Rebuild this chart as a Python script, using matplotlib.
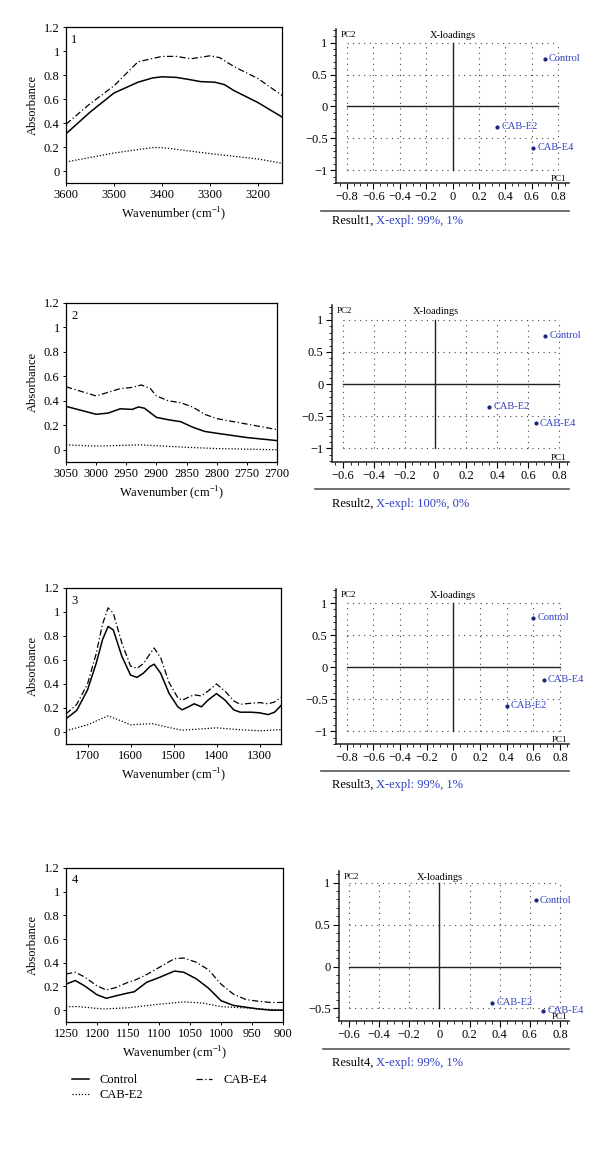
import matplotlib.pyplot as plt
from matplotlib.lines import Line2D
from matplotlib.ticker import MultipleLocator, FuncFormatter
import matplotlib.transforms as mtrans

plt.rcParams['font.family'] = ['Liberation Serif', 'DejaVu Serif']

W, H = 600, 1150
BLUE = '#3040c0'
DOT = '#1a2380'

## spectra (wavenumber, absorbance)

# 1 - 3600..3150
wn1_c = [3600, 3550, 3500, 3450, 3420, 3400, 3370, 3340, 3320, 3290, 3270, 3250, 3200, 3150]
ctrl1 = [0.31, 0.49, 0.65, 0.74, 0.775, 0.785, 0.78, 0.76, 0.745, 0.74, 0.72, 0.67, 0.57, 0.45]
wn1_e4 = [3600, 3550, 3500, 3450, 3400, 3370, 3340, 3300, 3280, 3250, 3200, 3150]
e4_1 = [0.39, 0.56, 0.71, 0.91, 0.955, 0.955, 0.935, 0.96, 0.945, 0.87, 0.77, 0.63]
wn1_e2 = [3600, 3500, 3420, 3400, 3300, 3200, 3150]
e2_1 = [0.075, 0.15, 0.195, 0.195, 0.145, 0.10, 0.065]

# 2 - 3050..2700
wn2_c = [3050, 3000, 2980, 2960, 2940, 2930, 2920, 2900, 2880, 2860, 2840, 2820, 2800, 2750, 2700]
ctrl2 = [0.355, 0.29, 0.30, 0.335, 0.33, 0.35, 0.34, 0.265, 0.245, 0.23, 0.185, 0.15, 0.135, 0.10, 0.075]
wn2_e4 = [3050, 3000, 2960, 2940, 2925, 2910, 2900, 2880, 2860, 2840, 2820, 2800, 2750, 2700]
e4_2 = [0.515, 0.44, 0.50, 0.51, 0.53, 0.50, 0.44, 0.40, 0.385, 0.35, 0.29, 0.255, 0.21, 0.165]
wn2_e2 = [3050, 3000, 2925, 2850, 2800, 2700]
e2_2 = [0.04, 0.03, 0.04, 0.02, 0.01, 0.0]

# 3 - 1750..1250
wn3 = [1750, 1725, 1700, 1680, 1665, 1652, 1640, 1620, 1600, 1585, 1570, 1555, 1545, 1530, 1510,
       1490, 1480, 1465, 1452, 1435, 1420, 1400, 1380, 1360, 1345, 1320, 1300, 1280, 1265, 1250]
ctrl3 = [0.11, 0.18, 0.35, 0.57, 0.77, 0.88, 0.85, 0.63, 0.475, 0.455, 0.49, 0.545, 0.565, 0.49, 0.32,
         0.21, 0.185, 0.21, 0.235, 0.21, 0.265, 0.32, 0.265, 0.185, 0.165, 0.165, 0.16, 0.145, 0.165, 0.22]
e4_3 = [0.15, 0.23, 0.40, 0.65, 0.90, 1.035, 0.99, 0.74, 0.55, 0.53, 0.57, 0.65, 0.70, 0.62, 0.41,
        0.285, 0.265, 0.29, 0.31, 0.30, 0.34, 0.40, 0.34, 0.26, 0.23, 0.24, 0.245, 0.235, 0.25, 0.29]
wn3_e2 = [1750, 1700, 1652, 1620, 1600, 1550, 1520, 1480, 1400, 1350, 1300, 1250]
e2_3 = [0.01, 0.06, 0.135, 0.09, 0.06, 0.07, 0.045, 0.015, 0.035, 0.02, 0.01, 0.02]

# 4 - 1250..900
wn4 = [1250, 1235, 1220, 1200, 1185, 1170, 1150, 1140, 1120, 1100, 1075, 1060, 1040, 1020, 1000,
       980, 960, 940, 920, 900]
ctrl4 = [0.22, 0.25, 0.205, 0.13, 0.10, 0.12, 0.145, 0.155, 0.235, 0.275, 0.33, 0.32, 0.265, 0.185, 0.08,
         0.04, 0.025, 0.01, 0.0, 0.0]
e4_4 = [0.305, 0.32, 0.28, 0.205, 0.17, 0.19, 0.235, 0.25, 0.30, 0.36, 0.435, 0.44, 0.405, 0.34, 0.22,
        0.135, 0.09, 0.075, 0.065, 0.065]
wn4_e2 = [1250, 1230, 1190, 1150, 1100, 1060, 1030, 1000, 950, 900]
e2_4 = [0.03, 0.03, 0.01, 0.02, 0.05, 0.07, 0.06, 0.03, 0.015, 0.0]

## x-loadings (PC1, PC2) for Control, CAB-E2, CAB-E4
names = ['Control', 'CAB-E2', 'CAB-E4']
pc1_x = [0.70, 0.34, 0.61]
pc1_y = [0.75, -0.32, -0.65]
pc2_x = [0.71, 0.35, 0.65]
pc2_y = [0.75, -0.35, -0.61]
pc3_x = [0.60, 0.40, 0.68]
pc3_y = [0.77, -0.60, -0.20]
pc4_x = [0.64, 0.35, 0.69]
pc4_y = [0.79, -0.43, -0.53]
expl = ['99%, 1%', '100%, 0%', '99%, 1%', '99%, 1%']


def fmt(v, pos=None):
    if abs(v) < 1e-9:
        return '0'
    return ('%g' % round(v, 3)).replace('-', '\u2212')


def box(l, t, r, b):
    return [l / W, 1 - b / H, (r - l) / W, (b - t) / H]


fig = plt.figure(figsize=(6, 11.5), dpi=100)

ls_e4 = (0, (5, 2, 1, 2))
ls_e2 = (0, (1, 1.5))

spectra = [
    (box(66, 27, 282, 183), (3600, 3150), 100, '1', (wn1_c, ctrl1), (wn1_e2, e2_1), (wn1_e4, e4_1)),
    (box(66, 303, 277, 462), (3050, 2700), 50, '2', (wn2_c, ctrl2), (wn2_e2, e2_2), (wn2_e4, e4_2)),
    (box(66, 588, 281, 744), (1750, 1250), 100, '3', (wn3, ctrl3), (wn3_e2, e2_3), (wn3, e4_3)),
    (box(66, 868, 283, 1022), (1250, 900), 50, '4', (wn4, ctrl4), (wn4_e2, e2_4), (wn4, e4_4)),
]

for rect, xl, step, num, c, e2, e4 in spectra:
    ax = fig.add_axes(rect)
    ax.plot(c[0], c[1], color='black', lw=1.1, ls='-')
    ax.plot(e2[0], e2[1], color='black', lw=0.9, ls=ls_e2)
    ax.plot(e4[0], e4[1], color='black', lw=0.9, ls=ls_e4)
    ax.set_xlim(*xl)
    ax.set_ylim(-0.1, 1.2)
    ax.xaxis.set_major_locator(MultipleLocator(step))
    ax.yaxis.set_major_locator(MultipleLocator(0.2))
    ax.yaxis.set_major_formatter(FuncFormatter(fmt))
    ax.tick_params(labelsize=9, length=2.5, width=0.7, direction='out', pad=2)
    for s in ax.spines.values():
        s.set_linewidth(0.9)
    ax.set_ylabel('Absorbance', fontsize=9, labelpad=4)
    ax.set_xlabel('Wavenumber (cm$^{\\mathregular{-1}}$)', fontsize=9, labelpad=3)
    ax.text(0.025, 0.9, num, transform=ax.transAxes, fontsize=9)

# loadings panels
loads = [
    (box(336, 29, 569, 183), (-0.883, 0.883), (-1.2, 1.215), -0.8, -1.0, pc1_x, pc1_y, 211, 321, 221),
    (box(332, 305, 569, 462), (-0.67, 0.865), (-1.21, 1.23), -0.6, -1.0, pc2_x, pc2_y, 489, 315, 504),
    (box(336, 589, 569, 744), (-0.88, 0.868), (-1.2, 1.22), -0.8, -1.0, pc3_x, pc3_y, 771, 321, 785),
    (box(339, 871, 569, 1021), (-0.666, 0.86), (-0.65, 1.14), -0.6, -0.5, pc4_x, pc4_y, 1049, 323, 1063),
]

for i, (rect, xl, yl, gx0, gy0, px, py, ly, lx0, ty) in enumerate(loads):
    ax = fig.add_axes(rect)
    ax.set_xlim(*xl)
    ax.set_ylim(*yl)
    for s in ['top', 'right']:
        ax.spines[s].set_visible(False)
    for s in ['left', 'bottom']:
        ax.spines[s].set_linewidth(1.1)
        ax.spines[s].set_color('#222222')
    ax.xaxis.set_major_locator(MultipleLocator(0.2))
    ax.xaxis.set_minor_locator(MultipleLocator(0.05))
    ax.yaxis.set_major_locator(MultipleLocator(0.5))
    ax.yaxis.set_minor_locator(MultipleLocator(0.1))
    ax.xaxis.set_major_formatter(FuncFormatter(fmt))
    ax.yaxis.set_major_formatter(FuncFormatter(fmt))
    ax.tick_params(which='major', labelsize=9, length=4, width=0.8, direction='out', pad=2)
    ax.tick_params(which='minor', length=2, width=0.6, direction='out')

    gxs = [round(gx0 + 0.2 * k, 2) for k in range(int(round((0.8 - gx0) / 0.2)) + 1)]
    gys = [round(gy0 + 0.5 * k, 2) for k in range(int(round((1.0 - gy0) / 0.5)) + 1)]
    ax.hlines(gys, gx0, 0.8, colors='#444444', lw=0.8, linestyles=(0, (1, 4)))
    ax.vlines(gxs, gy0, 1.0, colors='#444444', lw=0.8, linestyles=(0, (1, 4)))
    ax.plot([gx0, 0.8], [0, 0], color='#222222', lw=1.0)
    ax.plot([0, 0], [gy0, 1.0], color='#222222', lw=1.0)

    ax.plot(px, py, 'o', color=DOT, ms=2)
    for n, x, y in zip(names, px, py):
        ax.annotate(n, (x, y), xytext=(3, 0), textcoords='offset points',
                    va='center', ha='left', fontsize=7.5, color=BLUE)

    tr = mtrans.blended_transform_factory(ax.transData, ax.transAxes)
    ax.text(0.02, 0.985, 'PC2', transform=ax.transAxes, fontsize=6.5, va='top', ha='left')
    ax.text(0, 0.985, 'X-loadings', transform=tr, fontsize=7.5, va='top', ha='center')
    ax.text(0.8, 0.003, 'PC1', transform=tr, fontsize=6.5, va='bottom', ha='center')

    fig.add_artist(Line2D([lx0 / W, 569 / W], [1 - ly / H, 1 - ly / H], color='#555555', lw=1.2))
    t1 = fig.text(332 / W, 1 - ty / H, 'Result%d, ' % (i + 1), fontsize=9, va='center', ha='left')
    ax.annotate('X-expl: ' + expl[i], xy=(1, 0.5), xycoords=t1, va='center', ha='left',
                fontsize=9, color=BLUE, annotation_clip=False)

handles = [
    Line2D([], [], color='black', lw=1.1, ls='-', label='Control'),
    Line2D([], [], color='black', lw=0.9, ls=ls_e2, label='CAB-E2'),
    Line2D([], [], color='black', lw=0.9, ls=ls_e4, label='CAB-E4'),
]
fig.legend(handles=handles, loc='upper left', bbox_to_anchor=(66 / W, 1 - 1068 / H), ncol=2,
           frameon=False, fontsize=9, handlelength=1.3, handletextpad=0.9,
           columnspacing=4.2, labelspacing=0.25, borderpad=0)

fig.savefig('out.png', dpi=100)
